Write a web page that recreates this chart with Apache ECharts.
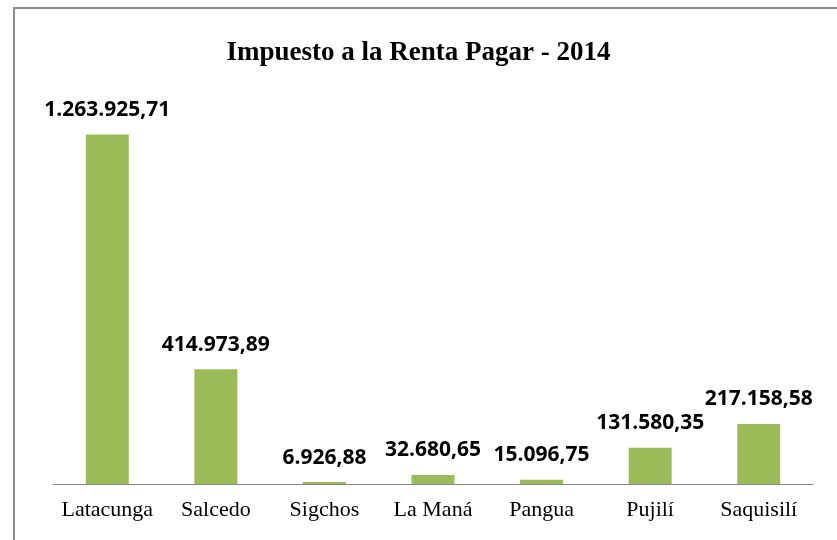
<!DOCTYPE html>
<html lang="es">
<head>
    <meta charset="UTF-8">
    <title>Impuesto a la Renta Pagar - 2014</title>
    <script src="https://cdn.jsdelivr.net/npm/echarts@6/dist/echarts.min.js"></script>
    <style>
        body { margin: 0; background: #fff; }
        #main { width: 837px; height: 540px; }
    </style>
</head>
<body>
<div id="main"></div>
<script>
    // datos
    var cantones = ['Latacunga', 'Salcedo', 'Sigchos', 'La Maná', 'Pangua', 'Pujilí', 'Saquisilí'];
    var impuesto = [1263925.71, 414973.89, 6926.88, 32680.65, 15096.75, 131580.35, 217158.58];

    // formato 1.234.567,89
    function formatoEs(v) {
        var partes = v.toFixed(2).split('.');
        var entero = partes[0].replace(/\B(?=(\d{3})+(?!\d))/g, '.');
        return entero + ',' + partes[1];
    }

    var myChart = echarts.init(document.getElementById('main'));

    var option = {
        animation: false,
        graphic: [{
            type: 'polyline',
            shape: { points: [[14, 545], [14, 8], [845, 8]] },
            style: { fill: null, stroke: '#8c8c8c', lineWidth: 2 }
        }],
        title: {
            text: 'Impuesto a la Renta Pagar - 2014',
            left: 'center',
            top: 35,
            textStyle: {
                fontFamily: 'Liberation Serif',
                fontWeight: 'bold',
                fontSize: 27,
                color: '#000'
            }
        },
        grid: { left: 53, right: 24, top: 97, bottom: 56 },
        xAxis: {
            type: 'category',
            data: cantones,
            axisLine: { lineStyle: { color: '#868686', width: 1 } },
            axisTick: { show: false },
            axisLabel: {
                fontFamily: 'Liberation Serif',
                fontSize: 22,
                color: '#000',
                margin: 15,
                interval: 0
            }
        },
        yAxis: {
            type: 'value',
            min: 0,
            max: 1400000,
            show: false,
            splitLine: { show: false }
        },
        series: [{
            type: 'bar',
            data: impuesto,
            barWidth: 43,
            itemStyle: { color: '#9BBB59' },
            label: {
                show: true,
                position: 'top',
                distance: 14,
                fontFamily: 'Open Sans',
                fontWeight: 'bold',
                fontSize: 21,
                color: '#000',
                formatter: function (p) { return formatoEs(p.value); }
            }
        }]
    };
    myChart.setOption(option);
</script>
</body>
</html>
